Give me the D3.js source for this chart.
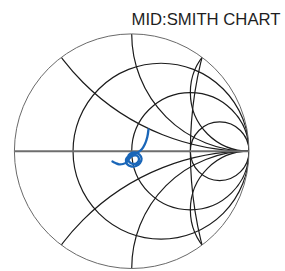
<!DOCTYPE html>
<html>
<head>
<meta charset="utf-8">
<script src="https://cdn.jsdelivr.net/npm/d3@7"></script>
<style>
  html, body { margin: 0; padding: 0; background: #fff; }
  svg { display: block; }
</style>
</head>
<body>
<div id="chart"></div>
<script>
// smith chart grid + measured trace (reflection coefficient, re / im)

let title = "MID:SMITH CHART";

// constant resistance circles and constant reactance arcs
let rValues = [1 / 3, 1, 3];
let xValues = [0.5, 1, 2, -0.5, -1, -2];
// one extra circle seen on the chart (center on real axis, radius), in gamma units
let extraCircles = [{ c: 3.75, r: 3.25 }];

// trace
let traceRe = [0.143, 0.133, 0.113, 0.084, 0.045, 0.003, -0.032, -0.049, -0.040, -0.006,
               0.037, 0.071, 0.084, 0.066, 0.028, -0.010, -0.032, -0.023, 0.011, 0.049,
               0.062, 0.041, 0.003, -0.023, -0.040, -0.074, -0.108, -0.138, -0.164];
let traceIm = [0.185, 0.121, 0.061, 0.014, -0.015, -0.028, -0.045, -0.075, -0.109, -0.130,
               -0.126, -0.101, -0.062, -0.028, -0.011, -0.020, -0.049, -0.088, -0.109, -0.096,
               -0.062, -0.037, -0.041, -0.066, -0.092, -0.109, -0.112, -0.101, -0.088];

let width = 285, height = 271;
let cx = 131.7, cy = 151.2, R = 117.3;

let xScale = d3.scaleLinear().domain([-1, 1]).range([cx - R, cx + R]);
let yScale = d3.scaleLinear().domain([-1, 1]).range([cy + R, cy - R]);
let rScale = d3.scaleLinear().domain([0, 1]).range([0, R]);

let svg = d3.select("#chart").append("svg")
  .attr("width", width)
  .attr("height", height);

svg.append("defs").append("clipPath")
  .attr("id", "unit")
  .append("circle")
  .attr("cx", xScale(0))
  .attr("cy", yScale(0))
  .attr("r", rScale(1));

let grid = svg.append("g")
  .attr("clip-path", "url(#unit)")
  .attr("fill", "none")
  .attr("stroke", "#1c1c1c")
  .attr("stroke-width", 1.2);

// resistance circles
grid.selectAll(".rc")
  .data(rValues)
  .enter()
  .append("circle")
  .attr("class", "rc")
  .attr("cx", d => xScale(d / (1 + d)))
  .attr("cy", yScale(0))
  .attr("r", d => rScale(1 / (1 + d)));

// reactance arcs
grid.selectAll(".xc")
  .data(xValues)
  .enter()
  .append("circle")
  .attr("class", "xc")
  .attr("cx", xScale(1))
  .attr("cy", d => yScale(1 / d))
  .attr("r", d => rScale(1 / Math.abs(d)));

grid.selectAll(".ec")
  .data(extraCircles)
  .enter()
  .append("circle")
  .attr("class", "ec")
  .attr("cx", d => xScale(d.c))
  .attr("cy", yScale(0))
  .attr("r", d => rScale(d.r));

// real axis
svg.append("line")
  .attr("x1", xScale(-1))
  .attr("x2", xScale(1))
  .attr("y1", yScale(0))
  .attr("y2", yScale(0))
  .attr("stroke", "#6e6e6e")
  .attr("stroke-width", 2);

// outer circle
svg.append("circle")
  .attr("cx", xScale(0))
  .attr("cy", yScale(0))
  .attr("r", rScale(1))
  .attr("fill", "none")
  .attr("stroke", "#6a6a6a")
  .attr("stroke-width", 1);

// trace
let pts = traceRe.map((d, i) => [d, traceIm[i]]);
let line = d3.line()
  .x(d => xScale(d[0]))
  .y(d => yScale(d[1]))
  .curve(d3.curveCatmullRom);

svg.append("path")
  .attr("d", line(pts))
  .attr("fill", "none")
  .attr("stroke", "#1a66b8")
  .attr("stroke-width", 2.3)
  .attr("stroke-linejoin", "round")
  .attr("stroke-linecap", "round");

svg.append("text")
  .attr("x", 131.5)
  .attr("y", 25)
  .attr("font-family", "Liberation Sans, Arial, sans-serif")
  .attr("font-size", 16.5)
  .attr("fill", "#1e1e1e")
  .attr("textLength", 149)
  .attr("lengthAdjust", "spacingAndGlyphs")
  .text(title);
</script>
</body>
</html>
